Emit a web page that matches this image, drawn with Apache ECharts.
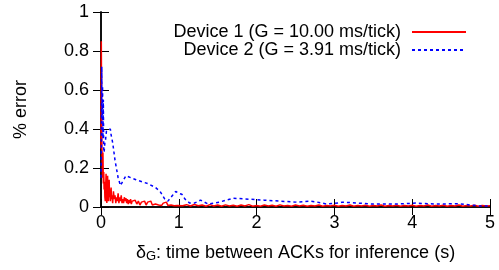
<!DOCTYPE html>
<html>
<head>
<meta charset="utf-8">
<script src="https://cdn.jsdelivr.net/npm/echarts@6/dist/echarts.min.js"></script>
<style>
  html, body { margin: 0; padding: 0; background: #fff; }
  #chart { width: 499px; height: 270px; }
</style>
</head>
<body>
<div id="chart"></div>
<script>
// series names
const NAME1 = 'Device 1 (G = 10.00 ms/tick)';
const NAME2 = 'Device 2 (G = 3.91 ms/tick)';

// axis ticks
const xTicks = [0, 1, 2, 3, 4, 5];
const yTicks = [0, 0.2, 0.4, 0.6, 0.8, 1];

// device 1: [delta (s), % error]
const device1 = [
  [0, 0.30], [0.004, 0.85], [0.008, 0.50], [0.012, 0.30], [0.016, 0.22], [0.02, 0.15],
  [0.025, 0.28], [0.03, 0.12], [0.035, 0.18], [0.04, 0.09], [0.045, 0.13], [0.05, 0.05],
  [0.055, 0.03], [0.06, 0.10], [0.065, 0.17], [0.07, 0.08], [0.075, 0.02], [0.08, 0.12],
  [0.085, 0.16], [0.09, 0.06], [0.095, 0.03], [0.10, 0.11], [0.105, 0.14], [0.11, 0.05],
  [0.115, 0.09], [0.12, 0.03], [0.125, 0.07], [0.13, 0.10], [0.135, 0.04], [0.14, 0.06],
  [0.15, 0.02], [0.16, 0.08], [0.17, 0.04], [0.18, 0.06], [0.19, 0.02], [0.20, 0.05],
  [0.21, 0.03], [0.22, 0.07], [0.23, 0.02], [0.24, 0.05], [0.25, 0.03], [0.26, 0.06],
  [0.27, 0.02], [0.28, 0.04], [0.29, 0.02], [0.30, 0.05], [0.31, 0.03], [0.32, 0.045],
  [0.33, 0.02], [0.34, 0.04], [0.35, 0.015], [0.36, 0.035], [0.37, 0.02], [0.38, 0.04],
  [0.39, 0.015], [0.40, 0.03], [0.42, 0.02], [0.44, 0.035], [0.46, 0.015], [0.48, 0.03],
  [0.50, 0.01], [0.52, 0.025], [0.54, 0.015], [0.56, 0.03], [0.58, 0.01], [0.60, 0.025],
  [0.62, 0.015], [0.64, 0.03], [0.66, 0.01], [0.68, 0.02], [0.70, 0.015], [0.72, 0.025],
  [0.74, 0.01], [0.76, 0.02], [0.78, 0.008], [0.80, 0.02], [0.82, 0.012], [0.84, 0.025],
  [0.86, 0.008], [0.88, 0.018], [0.90, 0.01], [0.92, 0.02], [0.94, 0.006], [0.96, 0.015],
  [0.98, 0.008], [1.00, 0.014], [1.05, 0.006], [1.10, 0.012], [1.15, 0.005], [1.20, 0.013],
  [1.25, 0.006], [1.30, 0.01], [1.35, 0.004], [1.40, 0.012], [1.45, 0.005], [1.50, 0.01],
  [1.55, 0.004], [1.60, 0.011], [1.65, 0.005], [1.70, 0.009], [1.75, 0.004], [1.80, 0.01],
  [1.85, 0.005], [1.90, 0.012], [1.95, 0.004], [2.00, 0.008], [2.05, 0.004], [2.10, 0.01],
  [2.15, 0.005], [2.20, 0.009], [2.25, 0.004], [2.30, 0.011], [2.35, 0.005], [2.40, 0.008],
  [2.45, 0.004], [2.50, 0.01], [2.55, 0.005], [2.60, 0.009], [2.65, 0.004], [2.70, 0.008],
  [2.75, 0.005], [2.80, 0.01], [2.85, 0.004], [2.90, 0.008], [2.95, 0.005], [3.00, 0.009],
  [3.05, 0.004], [3.10, 0.008], [3.15, 0.005], [3.20, 0.01], [3.25, 0.004], [3.30, 0.008],
  [3.35, 0.005], [3.40, 0.009], [3.45, 0.004], [3.50, 0.008], [3.55, 0.005], [3.60, 0.01],
  [3.65, 0.004], [3.70, 0.008], [3.75, 0.005], [3.80, 0.009], [3.85, 0.004], [3.90, 0.008],
  [3.95, 0.005], [4.00, 0.009], [4.05, 0.004], [4.10, 0.008], [4.15, 0.005], [4.20, 0.01],
  [4.25, 0.004], [4.30, 0.008], [4.35, 0.005], [4.40, 0.009], [4.45, 0.004], [4.50, 0.008],
  [4.55, 0.005], [4.60, 0.01], [4.65, 0.004], [4.70, 0.008], [4.75, 0.005], [4.80, 0.009],
  [4.85, 0.004], [4.90, 0.008], [4.95, 0.005], [5.00, 0.006]
];

// device 2: [delta (s), % error]
const device2 = [
  [0, 0.15], [0.005, 0.30], [0.01, 0.72], [0.015, 0.45], [0.02, 0.62], [0.025, 0.35],
  [0.03, 0.55], [0.035, 0.30], [0.04, 0.28], [0.05, 0.33], [0.06, 0.35], [0.07, 0.39],
  [0.09, 0.40], [0.12, 0.40], [0.13, 0.37], [0.15, 0.33], [0.18, 0.24], [0.22, 0.15],
  [0.25, 0.11], [0.27, 0.12], [0.32, 0.16], [0.45, 0.14], [0.60, 0.12], [0.70, 0.10],
  [0.76, 0.08], [0.82, 0.04], [0.86, 0.03], [0.92, 0.06], [0.96, 0.08], [1.00, 0.07],
  [1.04, 0.065], [1.08, 0.04], [1.14, 0.02], [1.20, 0.02], [1.28, 0.035], [1.38, 0.015],
  [1.52, 0.025], [1.70, 0.045], [1.90, 0.04], [2.10, 0.035], [2.30, 0.03], [2.50, 0.025],
  [2.70, 0.03], [2.78, 0.025], [2.90, 0.015], [3.05, 0.02], [3.10, 0.025], [3.30, 0.02],
  [3.50, 0.015], [3.80, 0.015], [4.05, 0.02], [4.30, 0.015], [4.60, 0.017], [4.75, 0.01],
  [4.87, 0.005], [5.00, 0.005]
];

const FONT = "'Liberation Sans', Arial, sans-serif";
const FS = 18;
const chart = echarts.init(document.getElementById('chart'), null, { renderer: 'canvas' });

const tickStyle = { show: true, inside: true, length: 8, lineStyle: { color: '#000', width: 1 } };
const lineStyle = { show: true, lineStyle: { color: '#000', width: 1.5 } };

const legendBase = {
  orient: 'vertical',
  right: 27,
  align: 'right',
  itemWidth: 54,
  itemHeight: 10,
  itemStyle: { opacity: 0 },
  textStyle: { color: '#000', fontSize: FS, fontFamily: FONT, padding: [0, 6, 0, 0] },
  selectedMode: false
};

chart.setOption({
  animation: false,
  backgroundColor: '#fff',
  grid: { left: 101, right: 9, top: 12, bottom: 63 },
  legend: [
    Object.assign({}, legendBase, { data: [NAME1], top: 18 }),
    Object.assign({}, legendBase, { data: [NAME2], top: 36 })
  ],
  xAxis: [
    {
      type: 'value', min: 0, max: 5, interval: 1,
      axisLine: lineStyle, axisTick: tickStyle, splitLine: { show: false },
      axisLabel: { color: '#000', fontSize: FS, fontFamily: FONT, margin: 7 },
      name: '{d|δ}{s|G}{d|: time between ACKs for inference (s)}',
      nameLocation: 'middle', nameGap: 36,
      nameTextStyle: {
        rich: {
          d: { color: '#000', fontSize: FS, fontFamily: FONT },
          s: { color: '#000', fontSize: 13, fontFamily: FONT, verticalAlign: 'bottom', padding: [7, 0, 0, 0] }
        }
      }
    },
    {
      type: 'value', min: 0, max: 5, interval: 1, position: 'top',
      axisLine: lineStyle, axisTick: tickStyle, axisLabel: { show: false }, splitLine: { show: false }
    }
  ],
  yAxis: [
    {
      type: 'value', min: 0, max: 1, interval: 0.2,
      axisLine: lineStyle, axisTick: tickStyle, splitLine: { show: false },
      axisLabel: { color: '#000', fontSize: FS, fontFamily: FONT, margin: 12 },
      name: '% error', nameLocation: 'middle', nameGap: 71, nameRotate: 90,
      nameTextStyle: { color: '#000', fontSize: FS, fontFamily: FONT }
    },
    {
      type: 'value', min: 0, max: 1, interval: 0.2, position: 'right',
      axisLine: lineStyle, axisTick: tickStyle, axisLabel: { show: false }, splitLine: { show: false }
    }
  ],
  series: [
    {
      name: NAME1, type: 'line', data: device1, symbol: 'none',
      lineStyle: { color: '#ff0000', width: 1.5 }, itemStyle: { color: '#ff0000' },
      clip: true
    },
    {
      name: NAME2, type: 'line', data: device2, symbol: 'none',
      lineStyle: { color: '#0000ff', width: 1.5, type: [3, 3] }, itemStyle: { color: '#0000ff' },
      clip: true
    }
  ]
});
</script>
</body>
</html>
